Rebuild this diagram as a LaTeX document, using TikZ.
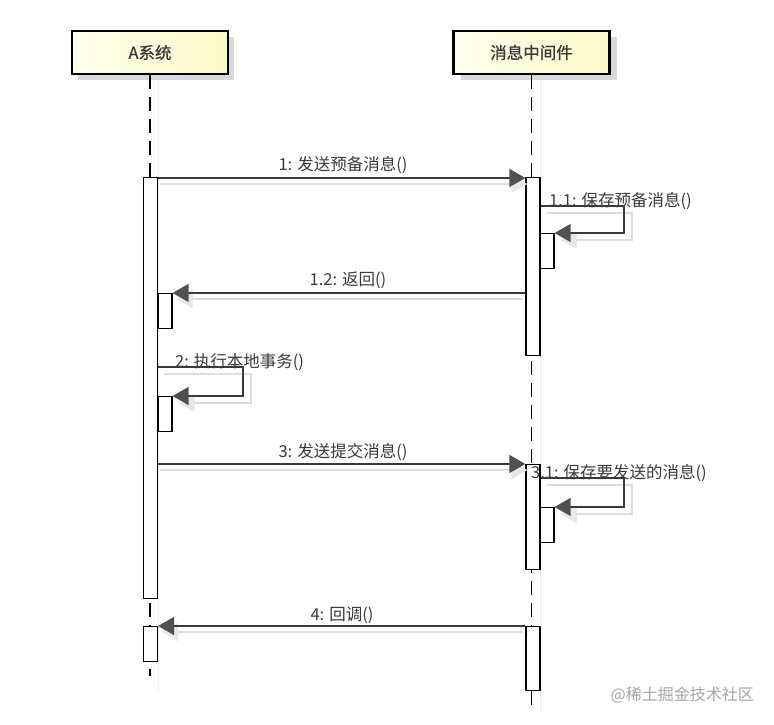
\documentclass[tikz,border=0pt]{standalone}
\usepackage{fontspec}
\setmainfont{Noto Sans CJK SC}
\newfontfamily\headfont[FakeBold=0.8]{Noto Sans CJK SC}
\usetikzlibrary{arrows.meta}
\definecolor{txt}{HTML}{3A3A3A}
\definecolor{tipc}{HTML}{505050}
\definecolor{shd}{HTML}{DDDDDD}
\definecolor{hdshadow}{HTML}{D9D9D9}
\definecolor{headL}{HTML}{FFFFEE}
\definecolor{headR}{HTML}{FAFAC8}
\tikzset{
  head/.style={draw=black, line width=2.5pt, left color=headL, right color=headR,
    minimum width=156pt, minimum height=43pt, inner sep=0pt,
    font=\headfont\fontsize{16.5}{19}\selectfont, text=txt},
  bar/.style={draw=black, fill=white, line width=1.2pt, minimum width=14pt,
    inner sep=0pt, anchor=north},
  msg/.style={draw=txt, line width=1.3pt,
    -{Triangle[length=16pt,width=18pt,fill=tipc,color=tipc]}},
  msgshadow/.style={draw=shd, line width=1.2pt,
    -{Triangle[length=16pt,width=18pt,fill=shd!70,color=shd!70]}},
  lbl/.style={font=\fontsize{16.5}{19}\selectfont, text=txt, inner sep=0pt},
  life/.style={draw=black, line width=1.3pt, dash pattern=on 14pt off 8pt},
  lifeshadow/.style={draw=black!7, line width=1pt},
}
\begin{document}
\begin{tikzpicture}[x=1pt,y=-1pt]
\useasboundingbox (0,0) rectangle (774,724);
\fill[white] (0,0) rectangle (774,724);

% header shadows
\fill[hdshadow] (78,37) rectangle (234,80);
\fill[hdshadow] (461,37) rectangle (617,80);
% headers
\node[head] (A) at (150,52.5) {A系统};
\node[head] (B) at (531.5,52.5) {消息中间件};

% message rows
\coordinate (y1) at (0,178);
\coordinate (y11a) at (0,206);
\coordinate (y11b) at (0,233);
\coordinate (y12) at (0,293);
\coordinate (y2a) at (0,367);
\coordinate (y2b) at (0,396);
\coordinate (y3) at (0,464);
\coordinate (y31a) at (0,478);
\coordinate (y31b) at (0,507);
\coordinate (y4) at (0,626);

% lifeline shadows
\draw[lifeshadow] (158,80) -- (158,692);
\draw[lifeshadow] (540,80) -- (540,712);
% lifelines
\coordinate (Aend) at (150.5,676);
\coordinate (Bend) at (533,712);
\draw[life] (A.south) -- (A.south |- Aend);
\draw[life] (B.south) -- (B.south |- Bend);

% activation bars
\node[bar, minimum height=421pt] (a1) at (150.5,177) {};
\node[bar, minimum height=35pt] (a2) at (165,293) {};
\node[bar, minimum height=35pt] (a3) at (165,396) {};
\node[bar, minimum height=35pt] (a4) at (150.5,626) {};
\node[bar, minimum height=178pt] (b1) at (533,177) {};
\node[bar, minimum height=35pt] (b2) at (547,233) {};
\node[bar, minimum height=105pt] (b3) at (533,464) {};
\node[bar, minimum height=35pt] (b4) at (547,507) {};
\node[bar, minimum height=64pt] (b5) at (533,626) {};

% turning points of self messages
\coordinate (t11a) at (624,206);
\coordinate (t11b) at (624,233);
\coordinate (t2a) at (243,367);
\coordinate (t2b) at (243,396);
\coordinate (t31a) at (624,478);
\coordinate (t31b) at (624,507);

% message shadows
\draw[msgshadow] ([shift={(2,6)}]a1.east |- y1) -- ([shift={(2,6)}]b1.west |- y1);
\draw[msgshadow] ([shift={(-2,6)}]b1.west |- y12) -- ([shift={(4,6)}]a2.north east);
\draw[msgshadow] ([shift={(2,6)}]a1.east |- y3) -- ([shift={(2,6)}]b3.west |- y3);
\draw[msgshadow] ([shift={(-2,6)}]b5.north west) -- ([shift={(4,6)}]a4.north east);
\draw[msgshadow] ([shift={(6,7)}]b1.east |- y11a) -- ([shift={(8,7)}]t11a) -- ([shift={(8,7)}]t11b) -- ([shift={(6,7)}]b2.north east);
\draw[msgshadow] ([shift={(6,7)}]a1.east |- y2a) -- ([shift={(8,7)}]t2a) -- ([shift={(8,7)}]t2b) -- ([shift={(6,7)}]a3.north east);
\draw[msgshadow] ([shift={(6,7)}]b3.east |- y31a) -- ([shift={(8,7)}]t31a) -- ([shift={(8,7)}]t31b) -- ([shift={(6,7)}]b4.north east);

% messages
\draw[msg] (a1.east |- y1) -- (b1.west |- y1);
\draw[msg] (b1.east |- y11a) -- (t11a) -- (t11b) -- (b2.north east);
\draw[msg] (b1.west |- y12) -- (a2.north east);
\draw[msg] (a1.east |- y2a) -- (t2a) -- (t2b) -- (a3.north east);
\draw[msg] (a1.east |- y3) -- (b3.west |- y3);
\draw[msg] (b3.east |- y31a) -- (t31a) -- (t31b) -- (b4.north east);
\draw[msg] (b5.north west) -- (a4.north east);

% labels
\node[lbl] (l1) at (343,165) {1: 发送预备消息()};
\node[lbl, anchor=west] (l11) at (549,201) {1.1: 保存预备消息()};
\node[lbl] (l12) at (348,280) {1.2: 返回()};
\node[lbl, anchor=west] (l2) at (175,362) {2: 执行本地事务()};
\node[lbl] (l3) at (343,452) {3: 发送提交消息()};
\node[lbl, anchor=west] (l31) at (531,473) {3.1: 保存要发送的消息()};
\node[lbl] (l4) at (342,615) {4: 回调()};

% watermark
\node[font=\fontsize{16}{18}\selectfont, text=black!35, anchor=east, inner sep=0pt] (wm) at (754,695) {@稀土掘金技术社区};
\end{tikzpicture}
\end{document}
